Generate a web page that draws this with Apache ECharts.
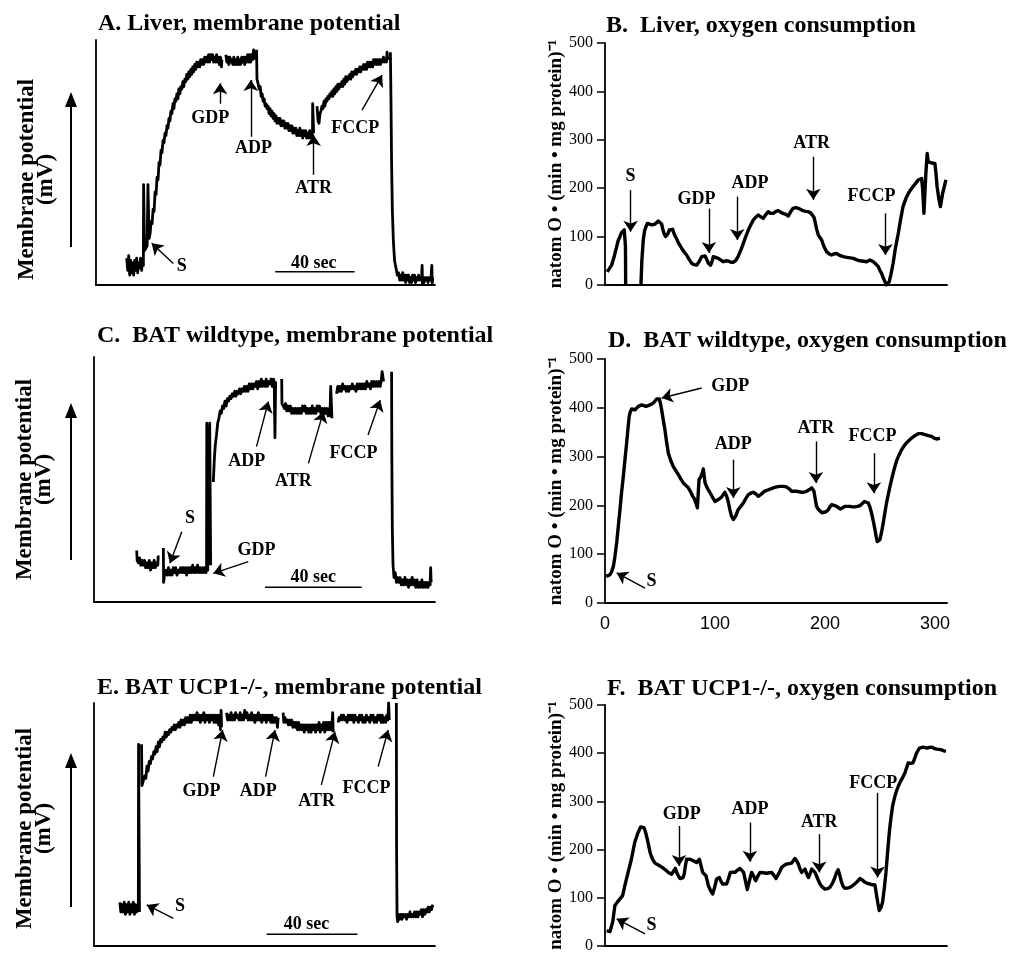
<!DOCTYPE html>
<html>
<head>
<meta charset="utf-8">
<script src="https://cdn.jsdelivr.net/npm/echarts@6/dist/echarts.min.js"></script>
<style>
  html, body { margin: 0; padding: 0; background: #fff; }
  #chart { width: 1021px; height: 954px; }
</style>
</head>
<body>
<div id="chart"></div>
<script>
  // panel titles
  const panelTitles = [
    'A. Liver, membrane potential',
    'B.  Liver, oxygen consumption',
    'C.  BAT wildtype, membrane potential',
    'D.  BAT wildtype, oxygen consumption',
    'E. BAT UCP1-/-, membrane potential',
    'F.  BAT UCP1-/-, oxygen consumption'
  ]
  const potentialName = 'Membrane potential\n(mV)'
  const oxygenName = 'natom O \u2022 (min \u2022 mg protein)\u207B\u00B9'
  const timeTicks = [0, 100, 200, 300]

  // A. liver membrane potential, [sec, arbitrary units], null = break in trace
  const liverPotential = [
    [15.5,11],[16,6],[16.5,12],[17,4],[17.5,10],[18,5],[18.5,9],[19,4],[19.5,10],[20,6],[20.5,11],[21,5],[21.5,9],[22,7],[22.5,11],[23,6],[23.5,10],[23.9,8],
    [24,41],[24.3,41],[24.5,14],[25.8,16],[26.2,41],[26.5,41],[26.8,19],
    [27.3,21],[27.8,26],[28.3,25],[28.8,31],[29.3,30],[29.8,38],[30.3,37],[30.8,44],[31.3,43],[31.8,50],[32.3,49],[32.8,55],[33.3,54],[33.8,59],[34.3,58],[34.8,62],[35.3,61],[35.8,65],[36.3,64],[36.8,68],[37.3,67],[37.8,71],[38.3,70],[38.8,74],[39.3,72],[39.8,76],[40.3,75],[40.8,78],[41.3,76],[41.8,80],[42.3,78],[42.8,81],[43.3,80],[43.8,83],[44.3,81],[44.8,84],[45.3,83],[45.8,86],[46.3,84],[46.8,87],[47.3,85],[47.8,88],[48.3,86],[48.8,89],[49.3,87],[49.8,90],[50.3,88],[50.8,91],[51.3,89],[51.8,91],[52.3,89],[52.8,92],[53.3,90],[53.8,92],[54.3,90],[54.8,93],[55.3,91],[55.8,93],[56.3,91],[56.8,94],[57.3,91],[57.8,94],[58.3,92],[58.8,94],[59.3,91],[59.8,93],[60.3,91],[60.8,94],[61.3,91],[61.8,93],[62.3,90],[62.8,93],[63.3,89],[63.5,92],
    [64,null],
    [65.5,94],[66,91],[66.5,93],[67,90],[67.5,93],[68,91],[68.5,92],[69,90],[69.5,93],[70,90],[70.5,92],[71,90],[71.5,93],[72,90],[72.5,92],[73,90],[73.5,93],[74,91],[74.5,93],[75,90],[75.5,93],[76,91],[76.5,94],[77,91],[77.5,94],[78,91],[78.5,94],[79,92],[79.5,96],[80,92],
    [80.5,null],
    [81,96],[81.2,84],[81.8,82],[82.3,80],[82.8,81],[83.3,77],[83.8,78],[84.3,75],[84.8,76],[85.3,73],[85.8,74],[86.3,72],[86.8,73],[87.3,70],[87.8,72],[88.3,69],[88.8,71],[89.3,68],[89.8,70],[90.3,67],[90.8,69],[91.3,66],[91.8,68],[92.3,66],[92.8,68],[93.3,65],[93.8,67],[94.3,65],[94.8,67],[95.3,64],[95.8,66],[96.3,64],[96.8,66],[97.3,63],[97.8,65],[98.3,63],[98.8,65],[99.3,62],[99.8,64],[100.3,62],[100.8,64],[101.3,61],[101.8,63],[102.3,61],[102.8,64],[103.3,61],[103.8,63],[104.3,60],[104.8,63],[105.3,61],[105.8,63],[106.3,60],[106.8,62],[107.3,60],[107.8,63],[108.3,60],[108.8,62],[109.2,61],[109.3,74],[109.6,74],[109.8,62],
    [110.5,null],
    [111.5,73],[112,67],[112.5,66],[113,70],[113.5,71],[114,73],[114.5,72],[115,75],[115.5,73],[116,76],[116.5,75],[117,77],[117.5,76],[118,78],[118.5,77],[119,79],[119.5,77],[120,80],[120.5,78],[121,81],[121.5,79],[122,82],[122.5,80],[123,82],[123.5,81],[124,83],[124.5,81],[125,84],[125.5,82],[126,85],[126.5,83],[127,85],[127.5,84],[128,86],[128.5,84],[129,87],[129.5,85],[130,87],[130.5,86],[131,88],[131.5,86],[132,88],[132.5,87],[133,89],[133.5,87],[134,89],[134.5,88],[135,90],[135.5,88],[136,90],[136.5,88],[137,91],[137.5,89],[138,91],[138.5,89],[139,91],[139.5,89],[140,92],[140.5,90],[141,92],[141.5,90],[142,92],[142.5,90],[143,92],[143.5,90],[144,92],[144.5,91],[145,93],[145.5,91],[146,92],[146.5,91],[146.8,95],[147.2,92],
    [147.8,null],
    [148.5,95],[148.8,75],[149.1,50],[149.5,30],[150,18],[150.6,10],[151.3,7],[152,4],[152.6,5],[153.2,2],[153.7,4],[154.2,2],[154.7,5],[155.2,2],[155.7,4],[156.2,1],[156.7,4],[157.2,2],[157.7,4],[158.2,1],[158.7,3],[159.2,1],[159.7,4],[160.2,2],[160.7,4],[161.2,1],[161.7,3],[162.2,2],[162.7,4],[163.2,2],[163.7,3],[164.2,2],[164.5,8],[164.7,0.5],[165,3],[165.5,1],[166,3],[166.5,2],[167,3],[167.5,1],[168,3],[168.5,2],[169,3],[169.4,8],[169.6,0.5],[169.9,3]
  ]
  const liverPotentialLabels = [['S',43.3,7.5],['GDP',57.6,68],['ADP',79.5,55.8],['ATR',109.8,39.5],['FCCP',130.8,64],['40 sec',109.8,8.8]]
  const liverPotentialArrows = [[39,8.8,28.1,17],[62.6,74,62.6,82.3],[78.1,60.5,78.1,83.7],[109.8,45,109.8,61.2],[134.2,71.4,144.3,85.7]]
  const liverScaleBar = [[90.4,5.4],[130.4,5.4]]

  // C. BAT wildtype membrane potential
  const batPotential = [
    [17.6,21],[17.8,17],[18.3,16],[18.8,18],[19.3,15],[19.8,17],[20.3,15],[20.8,17],[21.3,14],[21.8,16],[22.3,14],[22.8,17],[23.3,13],[23.8,16],[24.3,14],[24.8,17],[25.3,14],[25.8,16],[26.3,15],[26.5,19],
    [27,null],
    [28.6,22],[28.7,8],[29.2,12],[29.7,13],[30.2,11],[30.7,14],[31.2,11],[31.7,13],[32.2,11],[32.7,14],[33.2,12],[33.7,14],[34.2,11],[34.7,13],[35.2,12],[35.7,14],[36.2,12],[36.7,14],[37.2,12],[37.7,14],[38.2,11],[38.7,14],[39.2,12],[39.7,14],[40.2,12],[40.7,15],[41.2,12],[41.7,14],[42.2,12],[42.7,15],[43.2,12],[43.7,14],[44.2,12],[44.7,14],[45.2,12],[45.7,14],[46.2,12],[46.4,13],[46.5,73],[46.8,73],[46.9,13],[47.6,13],[47.7,73],[47.9,73],[48.1,15],
    [48.5,null],
    [49.2,49],[49.6,58],[50,64],[50.5,68],[51,73],[51.5,75],[52,78],[52.5,77],[53,80],[53.5,79],[54,82],[54.5,80],[55,83],[55.5,82],[56,84],[56.5,83],[57,85],[57.5,84],[58,86],[58.5,84],[59,86],[59.5,85],[60,87],[60.5,85],[61,87],[61.5,86],[62,88],[62.5,86],[63,88],[63.5,86],[64,89],[64.5,87],[65,89],[65.5,87],[66,89],[66.5,88],[67,90],[67.5,87],[68,90],[68.5,88],[69,91],[69.5,88],[70,90],[70.5,88],[71,91],[71.5,88],[72,90],[72.5,89],[73,91],[73.5,88],[74,91],[74.3,90],[74.6,67],[74.9,90],
    [75.5,null],
    [77.4,91],[77.5,81],[78,80],[78.5,79],[79,81],[79.5,78],[80,80],[80.5,78],[81,80],[81.5,77],[82,79],[82.5,77],[83,79],[83.5,77],[84,79],[84.5,77],[85,79],[85.5,77],[86,80],[86.5,78],[87,80],[87.5,77],[88,79],[88.5,77],[89,79],[89.5,77],[90,80],[90.5,77],[91,79],[91.5,77],[92,80],[92.5,78],[93,80],[93.5,77],[94,79],[94.5,76],[95,79],[95.5,77],[96,79],[96.5,76],[97,79],[97.3,76],[97.6,88],[97.9,88],[98.1,75],
    [98.8,null],
    [100,85],[100.5,88],[101,86],[101.5,88],[102,86],[102.5,89],[103,87],[103.5,88],[104,86],[104.5,88],[105,86],[105.5,88],[106,87],[106.5,89],[107,87],[107.5,88],[108,86],[108.5,89],[109,87],[109.5,89],[110,87],[110.5,89],[111,87],[111.5,89],[112,87],[112.5,90],[113,88],[113.5,89],[114,87],[114.5,90],[115,88],[115.5,90],[116,88],[116.5,90],[117,88],[117.5,90],[118,88],[118.5,91],[118.8,94],[119.2,94],[119.4,90],
    [120,null],
    [122.7,94],[122.8,60],[123,30],[123.3,15],[123.7,10],[124.2,12],[124.7,8],[125.2,10],[125.7,8],[126.2,10],[126.7,7],[127.2,9],[127.7,7],[128.2,10],[128.7,7],[129.2,9],[129.7,6],[130.2,9],[130.7,7],[131.2,10],[131.7,7],[132.2,9],[132.7,6],[133.2,9],[133.7,6],[134.2,8],[134.7,6],[135.2,9],[135.7,6],[136.2,8],[136.7,6],[137.2,8],[137.7,6],[138.2,8],[138.6,7],[138.8,14],[139,8]
  ]
  const batPotentialLabels = [['S',39.6,34],['GDP',67,21.2],['ADP',63,57.3],['ATR',82.2,49.1],['FCCP',107,60.7],['40 sec',90.4,9.9]]
  const batPotentialArrows = [[36.2,28.7,31.3,15.8],[63.6,16.5,49.2,11.7],[67,63.4,71.9,81.8],[88.4,56.6,94.6,77.7],[113,68.2,118,82.4]]
  const batScaleBar = [[70.5,6],[110.4,6]]

  // E. BAT UCP1-/- membrane potential
  const koPotential = [
    [11.4,18],[11.8,14],[12.3,17],[12.8,14],[13.3,18],[13.8,13],[14.3,17],[14.8,14],[15.3,18],[15.8,13],[16.3,17],[16.8,14],[17.3,18],[17.8,13],[18.3,17],[18.8,14],[19.3,16],[19.5,15],[19.6,83],[19.9,83],[20,14],
    [20.3,null],
    [20.9,83],[21.1,66],[21.8,66],[22.3,70],[22.8,69],[23.3,74],[23.8,72],[24.3,76],[24.8,75],[25.3,78],[25.8,77],[26.3,80],[26.8,79],[27.3,82],[27.8,80],[28.3,84],[28.8,82],[29.3,85],[29.8,84],[30.3,86],[30.8,85],[31.3,88],[31.8,86],[32.3,88],[32.8,87],[33.3,89],[33.8,88],[34.3,90],[34.8,89],[35.3,91],[35.8,89],[36.3,91],[36.8,90],[37.3,92],[37.8,90],[38.3,93],[38.8,91],[39.3,93],[39.8,91],[40.3,94],[40.8,92],[41.3,94],[41.8,92],[42.3,95],[42.8,92],[43.3,95],[43.8,93],[44.3,95],[44.8,93],[45.3,96],[45.8,93],[46.3,95],[46.8,92],[47.3,95],[47.8,93],[48.3,96],[48.8,92],[49.3,95],[49.8,93],[50.3,95],[50.8,92],[51.3,95],[51.8,93],[52.3,95],[52.8,92],[53.3,95],[53.8,92],[54.3,95],[54.8,91],[55.3,95],[55.6,89],[55.9,97],[56.1,90],
    [56.8,null],
    [58.3,96],[58.8,93],[59.3,95],[59.8,93],[60.3,96],[60.8,93],[61.3,95],[61.8,93],[62.3,96],[62.8,94],[63.3,95],[63.8,93],[64.3,96],[64.8,93],[65.3,95],[65.8,93],[66.3,97],[66.8,94],[67.3,96],[67.8,93],[68.3,95],[68.8,93],[69.3,96],[69.8,93],[70.3,95],[70.8,92],[71.3,95],[71.8,93],[72.3,96],[72.8,93],[73.3,95],[73.8,92],[74.3,95],[74.8,93],[75.3,95],[75.8,92],[76.3,95],[76.8,93],[77.3,95],[77.8,92],[78.3,95],[78.8,92],[79.3,94],[79.8,92],[80.3,94],[80.7,90],[81,94],
    [81.8,null],
    [83.2,96],[83.5,92],[84,94],[84.5,92],[85,93],[85.5,91],[86,93],[86.5,91],[87,93],[87.5,90],[88,92],[88.5,90],[89,92],[89.5,89],[90,92],[90.5,89],[91,91],[91.5,89],[92,91],[92.5,88],[93,91],[93.5,89],[94,91],[94.5,88],[95,91],[95.5,88],[96,91],[96.5,89],[97,91],[97.5,88],[98,91],[98.5,89],[99,92],[99.5,88],[100,91],[100.5,89],[101,92],[101.5,88],[102,92],[102.5,89],[103,92],[103.5,89],[104,92],[104.5,89],[105,96],[105.2,88],
    [106,null],
    [107.4,92],[107.8,94],[108.3,93],[108.8,95],[109.3,93],[109.8,95],[110.3,93],[110.8,94],[111.3,92],[111.8,95],[112.3,93],[112.8,95],[113.3,93],[113.8,95],[114.3,92],[114.8,95],[115.3,93],[115.8,94],[116.3,92],[116.8,95],[117.3,93],[117.8,95],[118.3,92],[118.8,94],[119.3,92],[119.8,95],[120.3,93],[120.8,94],[121.3,92],[121.8,95],[122.3,93],[122.8,95],[123.3,92],[123.8,94],[124.3,92],[124.8,95],[125.3,93],[125.8,95],[126.3,92],[126.8,95],[127.3,92],[127.8,94],[128.3,92],[128.8,95],[129.3,93],[129.6,100],[129.9,93],
    [131,null],
    [133,100],[133.1,40],[133.3,12],[133.6,10],[134,13],[134.5,11],[135,13],[135.5,11],[136,13],[136.5,12],[137,13],[137.5,11],[138,13],[138.5,12],[139,14],[139.5,12],[140,13],[140.5,12],[141,14],[141.5,12],[142,14],[142.5,12],[143,14],[143.5,13],[144,15],[144.5,12],[145,15],[145.5,13],[146,15],[146.5,14],[147,16],[147.5,14],[148,16],[148.5,15],[149,17]
  ]
  const koPotentialLabels = [['S',37.8,16.2],['GDP',47.3,63.5],['ADP',72.2,63.5],['ATR',97.9,59.4],['FCCP',119.9,64.9],['40 sec',93.5,9.1]]
  const koPotentialArrows = [[34.9,11.4,23.2,16.9],[52.5,69.7,56.6,88.9],[75.5,69.7,79.6,88.9],[100,66.3,106,88.2],[125,73.8,129.4,88.9]]
  const koScaleBar = [[75.9,4.8],[115.9,4.8]]

  // B. liver oxygen consumption, [sec, natom O/(min*mg protein)]
  const liverOxygen = [
    [2,27],[6,41],[8.5,60],[10.6,79],[12,92],[13.6,100],[15,108],[16.7,112],[17.5,114],[18.3,112],[18.6,80],[18.8,0],
    [25,null],
    [32.7,0],[33.5,50],[34.8,93],[36,112],[37.3,120.5],[38.5,127],[39.4,129],[40.5,126],[42.4,124],[44,127],[45.5,126],[47,129],[48.5,132],[50,130],[51.5,126],[52.5,116],[53.6,107],[55,100],[56,96],[57,105],[58.5,113.6],[60,116],[61.5,115],[63,105],[65,96],[67,86],[69.7,76],[72,68],[74.2,62],[76.5,53],[78.8,45],[81,42],[83.3,41],[85.5,48],[87.9,58.5],[89.5,61],[91,60],[92.5,53],[94,45],[96,41],[97.5,50],[98.5,58.5],[100.5,57],[103,55],[105,52],[107.6,48],[110,50],[112,49.6],[114.5,47],[116.7,47],[119,51],[121,58.5],[123.5,72],[125.8,86],[128,100],[130.3,113.6],[132.5,124],[134.8,134],[137,140],[139.4,144.6],[141.5,141],[143.9,137.7],[146,145],[148.5,151.5],[150.5,148],[153,148],[155.5,152],[157.6,153.6],[160,150],[162,148],[164.5,146],[166.7,142.6],[169,152],[171,158.4],[173.5,160],[175.8,158.4],[178,156],[180,153.6],[182.5,152],[184.8,151.5],[187,149],[188.8,148],[190,140],[191,131],[192.5,115],[194,103],[195.5,98],[197,93],[199,80],[201.5,69],[204,64],[206,62],[208,64],[210.6,65],[213.5,61],[216.7,58.5],[220,57],[223,56],[225.8,55],[229,52],[231.8,50],[235,49],[237.9,48],[239.5,50],[241,51.7],[242.5,50],[244,48],[246,44],[248.5,38],[250,30],[251.5,24],[253,15],[254.5,7],[256,0],[257.5,3],[258.5,7],[260,22],[262,45],[264,75],[266.7,107],[269,138],[271,162],[273.5,178],[275.8,189],[278,197],[280,203],[282.5,210],[284.8,217],[286.5,220],[287.9,220],[288.8,200],[289.4,176],[290,148],[290.8,185],[291.8,231],[293,272],[293.8,255],[294.8,251],[297,252],[300,251],[301,230],[302,203],[303.5,180],[305,162],[306,175],[307,189],[308.5,203],[310,217]
  ]
  const liverOxygenLabels = [['S',23.3,224],['GDP',83.3,177],['ADP',131.8,211],['ATR',187.9,292.7],['FCCP',242.4,184]]
  const liverOxygenArrows = [[23.3,196,23.3,110],[94.5,158,94.5,66],[120.3,182.5,120.3,93],[189.4,265,189.4,176],[255,148,255,62]]

  // D. BAT wildtype oxygen consumption
  const batOxygen = [
    [1,54.6],[4.5,58],[6,64],[7.6,75],[9,95],[10.6,123],[12,155],[13.6,191],[15,225],[16.7,260],[18.2,295],[19.7,328],[21,360],[22,382.5],[23,392],[24.2,397.5],[25.8,395],[27.3,396],[28.8,400],[30.3,403],[31.8,404],[33.3,406],[35,404],[37.3,403],[39,405],[41,406],[42.5,407],[44,410],[45.5,414],[47,418],[48.2,419],[49.4,418],[50.5,408],[51.5,396],[53,375],[54.5,355],[56,330],[57.6,307],[59.8,292],[62,280],[64.5,271],[66.7,263],[69,254],[71.2,246],[73.5,241],[75.8,236],[77.8,228],[79.7,218.6],[81.2,214],[82.7,212],[83.4,200],[84,195],[84.8,225],[85.5,253],[87,258],[87.9,260],[88.7,268],[89.4,274.6],[90.2,260],[91,246],[92.5,238],[93.9,232],[95.5,226],[97,222],[98.5,214],[100,208],[101.5,209],[103,212],[104.5,215],[106,217],[107.5,222],[109,227],[110.5,220],[112,208],[113.5,192],[115,178],[116.7,171],[118.8,178],[121,191],[123.5,198],[125.8,205],[128,214],[130.3,222],[132.5,225],[134.8,227],[137,224],[139.4,218.6],[141.5,222],[143.9,227],[146,230],[148.5,232],[150.8,234],[153,236],[156,238],[159,239],[162,239],[165,238],[167.5,234],[169.7,229],[172,229],[174,229],[176.5,228],[178.8,227],[181,227],[183.3,229],[185.5,232],[188,236],[189,234],[190,229],[191.2,213],[192.4,198],[194,192],[195.5,188],[197.2,185],[199,184],[201,187],[203,191],[204.5,197],[206,201.5],[208.3,200],[210.6,198],[212.3,195],[214,192.6],[216,195],[218,198],[220.4,198],[222.7,198],[225,197],[227,197],[229.5,198],[231.8,199.5],[234,204],[236,208],[237.7,207],[239.4,205],[241,196],[242.4,184],[244,168],[245.5,150],[246.6,136],[247.6,126],[248.8,127],[250,130],[251.5,145],[253,164],[254.5,185],[256,205],[258.3,230],[260.6,253],[262.8,273],[265,290],[267.3,303],[269.7,314],[272,322],[274,328],[276.4,333],[278.8,338],[281.8,343],[284.8,347],[288,347],[291,345],[294,343],[297,341.5],[299.3,338],[301.5,336],[303,336],[304.5,338]
  ]
  const batOxygenLabels = [['S',42.4,44.4],['GDP',114,444],['ADP',116.7,324.5],['ATR',191.8,358.6],['FCCP',243.3,341.5]]
  const batOxygenArrows = [[36.4,30.7,10.6,61.5],[88,440.6,51.5,420],[116.7,293.7,116.7,215],[191.8,331,191.8,246],[244.5,307,244.5,225]]

  // F. BAT UCP1-/- oxygen consumption
  const koOxygen = [
    [1.5,32],[4.5,30],[7,49.5],[9,84],[11.2,91],[13.6,97.7],[16,104.5],[18,125],[21,152.7],[24,180],[27,214.6],[30,235],[32.4,247],[34,248],[35.5,245.5],[37,235],[38.5,221],[40,205],[41,194],[42.5,184],[44,176.7],[45.5,172],[47,170],[48.5,168],[50,166.4],[52,163],[53.6,161],[55.5,157],[57.6,152.7],[59,150],[60.6,149],[62.3,155],[64,161],[65.3,152],[66.7,145.8],[68.3,140],[70,139],[71,142],[72,149],[73,165],[74.2,180],[75.8,181],[77.3,180],[78.8,177],[80.3,176.7],[81.8,174],[83.3,173],[84.5,177],[85.8,180],[87.3,167],[88.8,152.7],[90.3,149],[91.8,145.8],[93,135],[94,125],[96,115],[97.9,108],[99.7,122],[101.5,139],[102.8,143],[104,142],[105.5,134],[107,128.6],[108.8,128],[110.6,128.6],[112.3,140],[114,152.7],[116,153],[118,152.7],[120.3,157],[122.7,161],[124.3,158],[126,152.7],[127.7,135],[129.4,117],[131.3,135],[133.3,152.7],[135.2,145],[137,135.5],[139,145],[141,152.7],[144,152],[147,151],[149.3,152],[151.5,152.7],[153.5,147],[155.5,140],[158,150],[160.6,163],[162.8,167],[165,170],[167.3,171],[169.7,172],[171.2,177],[172.7,181.6],[174.2,177],[175.8,170],[177.3,160],[178.8,152.7],[180.3,156],[181.8,159.6],[183.4,150],[185,142],[186.5,150],[188,159.6],[189.5,157],[191,152.7],[193.3,140],[195.5,128.6],[197.8,122],[200,118],[202.3,119],[204.5,121.7],[206.8,130],[209,142],[210.5,152],[212,158],[213.5,147],[215,133],[216.5,124],[218,119.7],[220.3,120],[222.7,121.7],[225,125],[227,128.6],[229.5,134],[231.8,140],[234,137],[236,133],[238.5,130],[241,128.6],[243.3,127],[245.5,126.5],[246.3,115],[247,104.5],[248.2,88],[249.4,73.6],[251,80],[252.4,90.8],[254,120],[255.5,152.7],[257,195],[258.5,235],[260,265],[261.5,290],[263.3,308],[265,321],[266.8,332],[268.8,342],[270.8,350],[272.7,359],[274.3,370],[275.8,380],[278,379],[280,380],[281.7,390],[283.3,400],[284.7,406],[286,410.6],[287.7,412],[289.4,412.7],[291.2,411],[293,410.6],[295,412],[297,412.7],[299.3,410],[301.5,408.5],[303.8,408],[306,407],[308,405],[310,403.7]
  ]
  const koOxygenLabels = [['S',42.4,42.6],['GDP',69.7,273],['ADP',131.8,283],['ATR',194.8,256],['FCCP',244,338]]
  const koOxygenArrows = [[36.4,25.4,10.6,56.4],[67.3,249,67.3,166],[131.8,256,131.8,175],[194.8,232,194.8,152.7],[247.9,317.7,247.9,142]]

  const serif = '"Liberation Serif", "Times New Roman", serif'
  const black = '#000'

  const panels = [
    { grid: { left: 96, top: 40, width: 339, height: 245 }, title: [98, 12], kind: 'mv', xMax: 171, namePad: [0, 34, 0, 0],
      trace: liverPotential, labels: liverPotentialLabels, arrows: liverPotentialArrows, bar: liverScaleBar },
    { grid: { left: 605, top: 43, width: 342, height: 242 }, title: [606, 14], kind: 'o2', ticks: false,
      trace: liverOxygen, labels: liverOxygenLabels, arrows: liverOxygenArrows },
    { grid: { left: 94, top: 357, width: 341, height: 245 }, title: [97, 324], kind: 'mv', xMax: 140.6, namePad: 0,
      trace: batPotential, labels: batPotentialLabels, arrows: batPotentialArrows, bar: batScaleBar },
    { grid: { left: 605, top: 359, width: 342, height: 244 }, title: [608, 329], kind: 'o2', ticks: true,
      trace: batOxygen, labels: batOxygenLabels, arrows: batOxygenArrows },
    { grid: { left: 94, top: 703, width: 341, height: 243 }, title: [97, 676], kind: 'mv', xMax: 150, namePad: [0, 8, 0, 0],
      trace: koPotential, labels: koPotentialLabels, arrows: koPotentialArrows, bar: koScaleBar },
    { grid: { left: 605, top: 705, width: 342, height: 242 }, title: [607, 677], kind: 'o2', ticks: false,
      trace: koOxygen, labels: koOxygenLabels, arrows: koOxygenArrows }
  ]

  const grid = [], xAxis = [], yAxis = [], series = [], title = []

  panels.forEach((p, i) => {
    grid.push(p.grid)
    title.push({
      text: panelTitles[i], left: p.title[0], top: p.title[1], padding: 0,
      textStyle: { fontFamily: serif, fontWeight: 'bold', fontSize: 24, color: black }
    })
    const line = { show: true, lineStyle: { color: black, width: 1.8 } }
    if (p.kind === 'mv') {
      xAxis.push({ type: 'value', gridIndex: i, min: 0, max: p.xMax, axisLine: line,
        axisTick: { show: false }, axisLabel: { show: false }, splitLine: { show: false } })
      yAxis.push({ type: 'value', gridIndex: i, min: 0, max: 100, axisLine: line,
        axisTick: { show: false }, axisLabel: { show: false }, splitLine: { show: false },
        name: potentialName, nameLocation: 'middle', nameRotate: 90, nameGap: 40,
        nameTextStyle: { fontFamily: serif, fontWeight: 'bold', fontSize: 23, lineHeight: 19, color: black, padding: p.namePad } })
    } else {
      xAxis.push({ type: 'value', gridIndex: i, min: 0, max: 311, interval: 100, axisLine: line,
        axisTick: { show: false }, splitLine: { show: false },
        axisLabel: { show: p.ticks, margin: 12, fontFamily: '"Liberation Sans", Arial, sans-serif', fontSize: 18, color: black,
          formatter: v => (timeTicks.indexOf(v) >= 0 ? String(v) : '') } })
      yAxis.push({ type: 'value', gridIndex: i, min: 0, max: 500, interval: 100, axisLine: line,
        axisTick: { show: true, length: 8, lineStyle: { color: black, width: 1.5 } },
        axisLabel: { margin: 12, fontFamily: serif, fontSize: 16, color: black },
        splitLine: { show: false },
        name: oxygenName, nameLocation: 'middle', nameRotate: 90, nameGap: 38,
        nameTextStyle: { fontFamily: serif, fontWeight: 'bold', fontSize: 19, color: black } })
    }

    series.push({
      type: 'line', xAxisIndex: i, yAxisIndex: i, silent: true, animation: false,
      symbol: 'none', connectNulls: false,
      data: p.trace.map(d => (d[1] === null ? [d[0], '-'] : d)),
      lineStyle: { color: black, width: p.kind === 'mv' ? 2.8 : 3.4, join: 'round' },
      markLine: {
        silent: true, animation: false, symbol: ['none', 'arrow'], symbolSize: 11,
        label: { show: false },
        lineStyle: { color: black, width: 1.4, type: 'solid', opacity: 1 },
        data: p.arrows.map(a => [{ coord: [a[0], a[1]] }, { coord: [a[2], a[3]] }])
      }
    })
    if (p.bar) {
      series.push({
        type: 'line', xAxisIndex: i, yAxisIndex: i, silent: true, animation: false,
        symbol: 'none', data: p.bar, lineStyle: { color: black, width: 1.5 }
      })
    }
    series.push({
      type: 'scatter', xAxisIndex: i, yAxisIndex: i, silent: true, animation: false,
      symbolSize: 0, itemStyle: { color: black, opacity: 1 },
      data: p.labels.map(l => ({ name: l[0], value: [l[1], l[2]] })),
      label: { show: true, position: 'inside', formatter: '{b}', opacity: 1, textBorderWidth: 0,
        fontFamily: serif, fontWeight: 'bold', fontSize: 18, color: black }
    })
  })

  // upward arrows beside the membrane potential labels
  const graphic = []
  ;[[92, 247], [403, 560], [753, 907]].forEach(a => {
    graphic.push({ type: 'line', silent: true, shape: { x1: 71, y1: a[1], x2: 71, y2: a[0] + 12 },
      style: { stroke: black, lineWidth: 2 } })
    graphic.push({ type: 'polygon', silent: true, shape: { points: [[71, a[0]], [65, a[0] + 15], [77, a[0] + 15]] },
      style: { fill: black } })
  })

  const chart = echarts.init(document.getElementById('chart'), null, { renderer: 'canvas' })
  chart.setOption({
    backgroundColor: '#fff',
    animation: false,
    title, grid, xAxis, yAxis, series, graphic
  })
</script>
</body>
</html>
